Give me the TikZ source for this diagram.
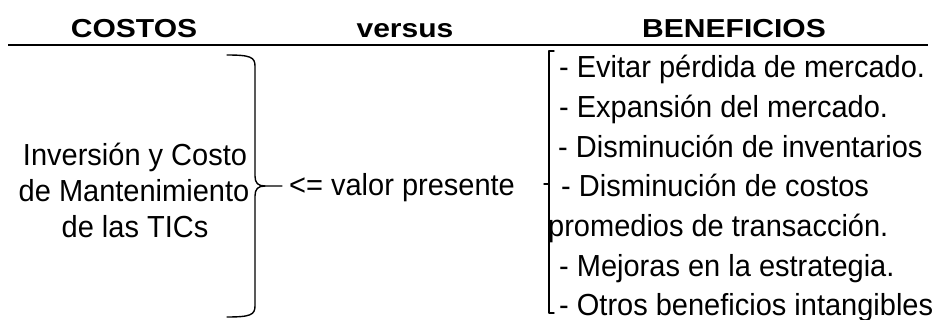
\documentclass[tikz,border=0pt]{standalone}
\usepackage{fontspec}
\setmainfont{Liberation Sans}
\begin{document}
\begin{tikzpicture}[x=1pt,y=-1pt,
  hdr/.style={font=\fontsize{26}{30}\bfseries\selectfont, anchor=base, inner sep=0pt, xscale=1.155},
  body/.style={font=\fontsize{29}{36}\selectfont, anchor=base, inner sep=0pt, yscale=1.05},
  bodyw/.style={body, anchor=base west},
  brk/.style={line width=1.4pt, line cap=round, line join=round}]
\clip (0,0) rectangle (932,320);
\fill[white] (0,0) rectangle (932,320);
% header
\node[hdr] (costos) at (134,38) {COSTOS};
\node[hdr] (versus) at (405,38) {versus};
\node[hdr] (benef) at (734,38) {BENEFICIOS};
\coordinate (rl) at (8,45);
\coordinate (rr) at (928,45);
\draw[line width=2.4pt] (rl) -- (rr);
% left text
\node[body] (l1) at (135,166) {Inversión y Costo};
\node[body] (l2) at (134,202) {de Mantenimiento};
\node[body] (l3) at (135,238) {de las TICs};
% right brace
\coordinate (btip) at (282,186);
\draw[brk] (227,55) .. controls (250,55) and (255,57) .. (255,66)
  -- (255,176) .. controls (255,183) and (258,186) .. (265,186) -- (btip);
\draw[brk] (265,186) .. controls (258,186) and (255,189) .. (255,196)
  -- (255,306) .. controls (255,315) and (250,317) .. (227,317);
% middle
\node[bodyw] (vp) at (289,196) {<= valor presente};
% left bracket
\draw[brk] (554,51) -- (549,51) -- (549,313) -- (554,313);
\coordinate (tk) at (544,184);
\draw[brk] (549,184) -- (tk);
% right list
\node[bodyw] (r1) at (559,78) {- Evitar pérdida de mercado.};
\node[bodyw] (r2) at (559,118) {- Expansión del mercado.};
\node[bodyw] (r3) at (558,158) {- Disminución de inventarios};
\node[bodyw] (r4) at (561,197) {- Disminución de costos};
\node[bodyw] (r5) at (548,237) {promedios de transacción.};
\node[bodyw] (r6) at (559,277) {- Mejoras en la estrategia.};
\node[bodyw] (r7) at (559,316) {- Otros beneficios intangibles};
\end{tikzpicture}
\end{document}
